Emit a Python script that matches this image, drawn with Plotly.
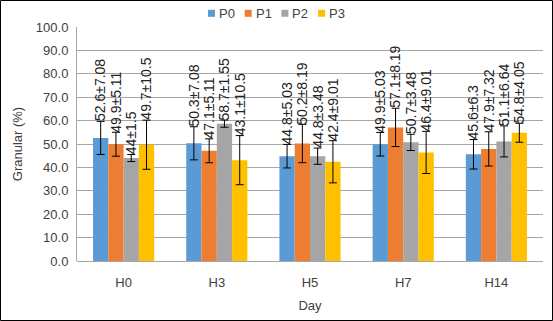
import plotly.graph_objects as go

categories = ["H0", "H3", "H5", "H7", "H14"]
series_names = ["P0", "P1", "P2", "P3"]
colors = ["#5B9BD5", "#ED7D31", "#A5A5A5", "#FFC000"]

p0_mean = [52.6, 50.3, 44.8, 49.9, 45.6]
p0_sd = [7.08, 7.08, 5.03, 5.03, 6.3]
p1_mean = [49.9, 47.1, 50.2, 57.1, 47.9]
p1_sd = [5.11, 5.11, 8.19, 8.19, 7.32]
p2_mean = [44, 58.7, 44.8, 50.7, 51.1]
p2_sd = [1.5, 1.55, 3.48, 3.48, 6.64]
p3_mean = [49.7, 43.1, 42.4, 46.4, 54.8]
p3_sd = [10.5, 10.5, 9.01, 9.01, 4.05]

means = [p0_mean, p1_mean, p2_mean, p3_mean]
sds = [p0_sd, p1_sd, p2_sd, p3_sd]

FONT = "Liberation Sans, Arial, sans-serif"
TXT = "#404040"
W = 0.164  # bar width in category units

L, R, T, B = 77, 10, 27, 60
PW, PH = 553 - L - R, 321 - T - B


def px_x(p):
    return (p - L) / PW


def px_y(p):
    return (321 - B - p) / PH


fig = go.Figure()
annotations = []
shapes = []
for j, name in enumerate(series_names):
    xs = [i + (j - 1.5) * W for i in range(len(categories))]
    fig.add_trace(go.Bar(
        x=xs, y=means[j], width=W, name=name, showlegend=False,
        marker=dict(color=colors[j], line=dict(width=0)),
        error_y=dict(type="data", array=sds[j], visible=True,
                     color="black", thickness=1, width=4),
    ))
    for x, m, s in zip(xs, means[j], sds[j]):
        annotations.append(dict(
            x=x, y=m + s, xref="x", yref="y",
            text=f"{m:g}±{s:g}", textangle=-90,
            showarrow=False, xanchor="center", yanchor="bottom",
            font=dict(family=FONT, size=14, color="#222222"),
            borderpad=0, yshift=-1,
        ))
    # custom compact legend entry
    mx = 208 + j * 36.7
    shapes.append(dict(type="rect", xref="paper", yref="paper",
                       x0=px_x(mx), x1=px_x(mx + 7), y0=px_y(16.8), y1=px_y(9.8),
                       fillcolor=colors[j], line=dict(width=0)))
    annotations.append(dict(x=px_x(mx + 10), y=px_y(13.3), xref="paper", yref="paper",
                            text=name, showarrow=False, xanchor="left", yanchor="middle",
                            font=dict(family=FONT, size=13, color=TXT), borderpad=0))

shapes.append(dict(type="rect", xref="paper", yref="paper",
                   x0=px_x(0.5), x1=px_x(552.5), y0=px_y(320.5), y1=px_y(0.5),
                   line=dict(color="black", width=1), fillcolor="rgba(0,0,0,0)"))

fig.update_layout(
    width=553, height=321,
    margin=dict(l=L, r=R, t=T, b=B),
    paper_bgcolor="white", plot_bgcolor="white",
    barmode="overlay", showlegend=False,
    font=dict(family=FONT, size=13, color=TXT),
    annotations=annotations, shapes=shapes,
    xaxis=dict(
        range=[-0.5, 4.5], tickmode="array",
        tickvals=list(range(len(categories))), ticktext=categories,
        showgrid=False, zeroline=False, showline=False,
        ticks="outside", ticklen=9, tickcolor="rgba(0,0,0,0)",
        title=dict(text="Day", font=dict(size=13, color=TXT), standoff=12),
        tickfont=dict(size=13, color=TXT),
    ),
    yaxis=dict(
        range=[0, 100], dtick=10, tickformat=".1f",
        showgrid=True, gridcolor="#A6A6A6", gridwidth=1,
        zeroline=True, zerolinecolor="#A6A6A6", zerolinewidth=1,
        showline=True, linecolor="#A6A6A6", linewidth=1,
        ticks="outside", ticklen=5, tickcolor="rgba(0,0,0,0)",
        tickfont=dict(size=13, color=TXT),
        title=dict(text="Granular (%)", font=dict(size=13, color=TXT), standoff=10),
    ),
)

fig.write_html("out.html")
